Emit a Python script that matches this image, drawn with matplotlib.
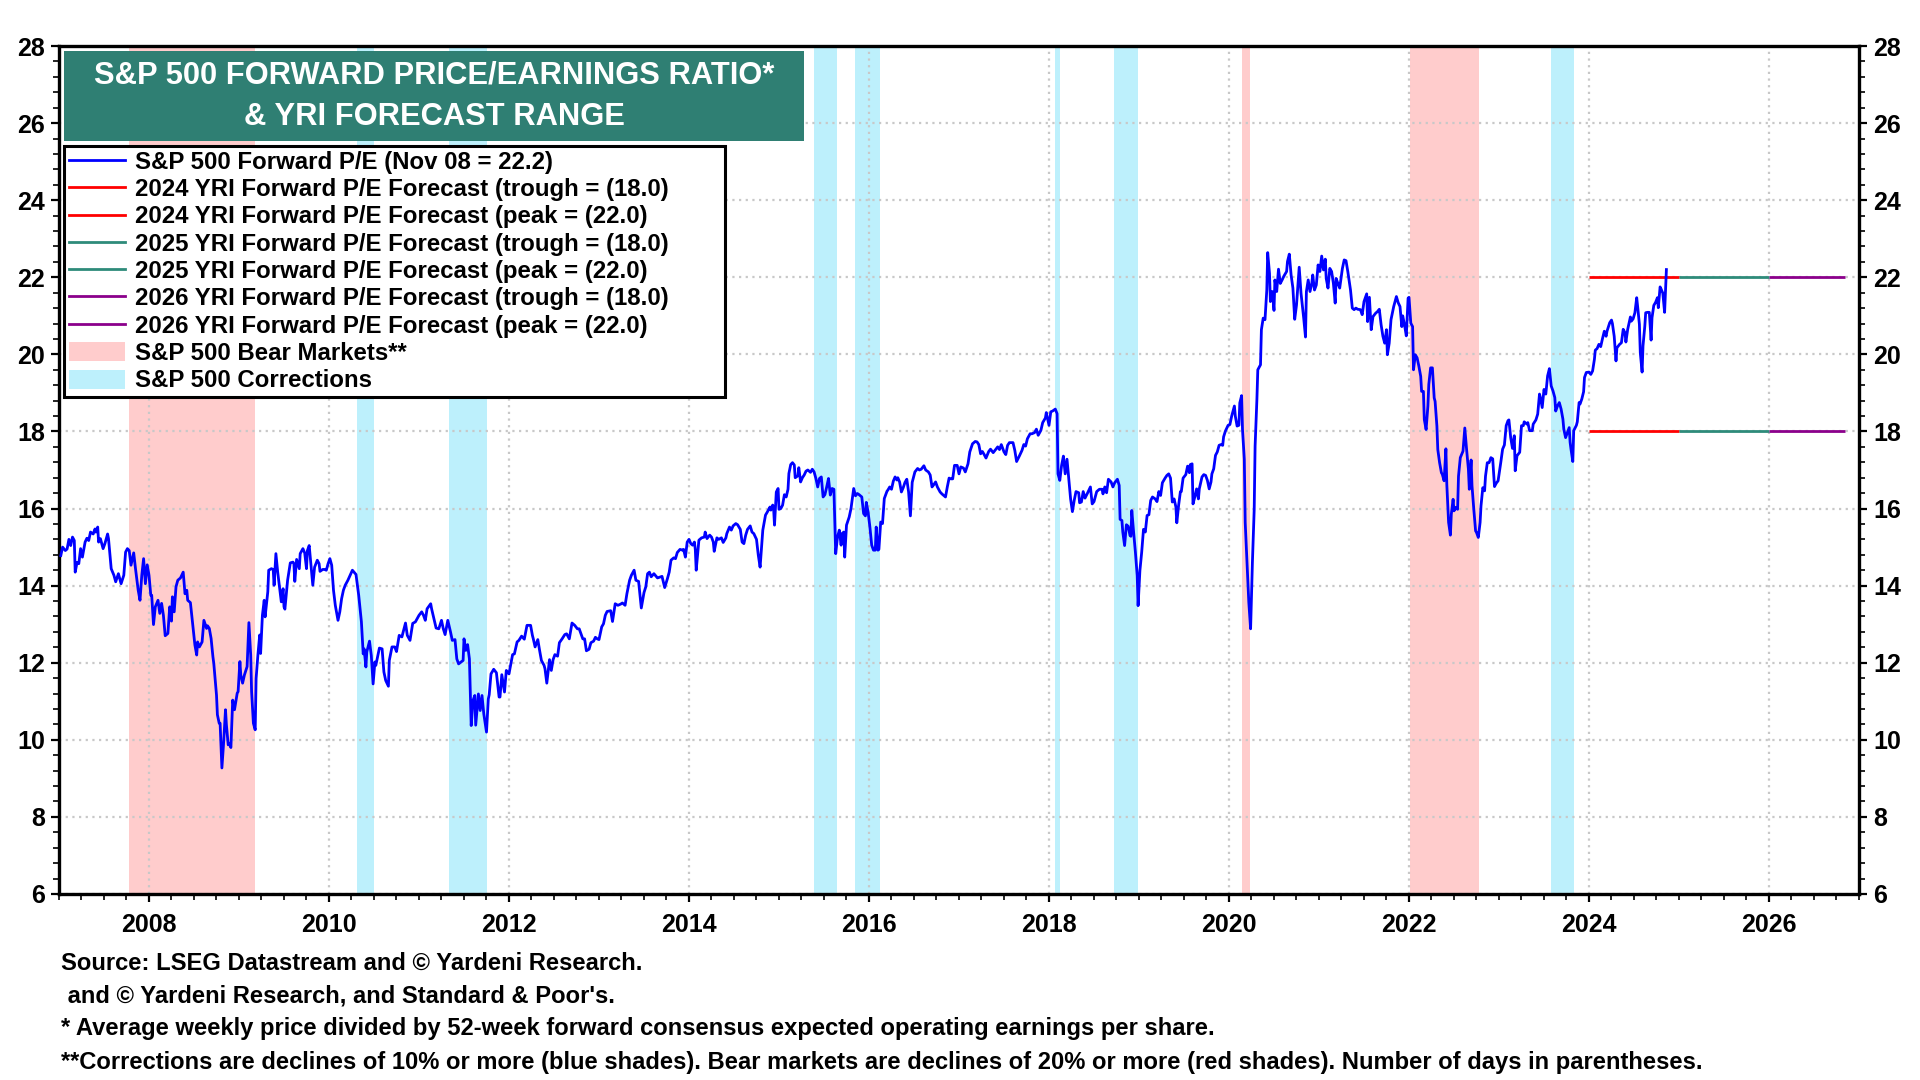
import matplotlib
matplotlib.use("Agg")
import matplotlib.pyplot as plt
from matplotlib.lines import Line2D
from matplotlib.patches import Patch, Rectangle
from matplotlib.ticker import MultipleLocator

# weekly forward P/E, (decimal year, value)
pe_2007_2010 = [
    (2007.02, 14.78), (2007.04, 15.00), (2007.07, 14.91), (2007.09, 14.95), (2007.11, 15.20), (2007.13, 15.04),
    (2007.15, 15.26), (2007.17, 15.17), (2007.18, 14.35), (2007.20, 14.60), (2007.22, 14.57), (2007.24, 14.96),
    (2007.26, 14.74), (2007.29, 15.13), (2007.31, 15.23), (2007.33, 15.17), (2007.35, 15.39), (2007.38, 15.34),
    (2007.40, 15.47), (2007.41, 15.39), (2007.43, 15.52), (2007.44, 15.13), (2007.46, 15.22), (2007.49, 14.96),
    (2007.51, 15.09), (2007.54, 15.34), (2007.55, 15.22), (2007.58, 14.44), (2007.61, 14.27), (2007.63, 14.10),
    (2007.66, 14.31), (2007.69, 14.05), (2007.72, 14.27), (2007.74, 14.87), (2007.76, 14.96), (2007.78, 14.91),
    (2007.80, 14.53), (2007.83, 14.85), (2007.85, 14.44), (2007.88, 13.88), (2007.90, 13.62), (2007.92, 14.27),
    (2007.94, 14.70), (2007.96, 14.05), (2007.98, 14.54), (2008.00, 14.27), (2008.02, 13.75), (2008.03, 13.75),
    (2008.05, 12.99), (2008.07, 13.45), (2008.10, 13.62), (2008.12, 13.28), (2008.14, 13.54), (2008.16, 13.23),
    (2008.18, 12.70), (2008.21, 12.76), (2008.23, 13.45), (2008.25, 13.08), (2008.26, 13.71), (2008.28, 13.32),
    (2008.30, 13.97), (2008.32, 14.14), (2008.35, 14.20), (2008.38, 14.35), (2008.40, 13.79), (2008.42, 13.88),
    (2008.43, 13.62), (2008.46, 13.56), (2008.49, 12.89), (2008.51, 12.46), (2008.53, 12.20), (2008.54, 12.54),
    (2008.56, 12.41), (2008.59, 12.54), (2008.61, 13.10), (2008.64, 12.89), (2008.65, 12.96), (2008.67, 12.89),
    (2008.69, 12.63), (2008.71, 12.16), (2008.72, 11.98), (2008.75, 11.16), (2008.76, 10.65), (2008.78, 10.43),
    (2008.79, 10.43), (2008.81, 9.27), (2008.83, 9.96), (2008.85, 10.78), (2008.86, 10.39), (2008.88, 9.87),
    (2008.89, 9.91), (2008.91, 9.80), (2008.93, 11.03), (2008.95, 10.78), (2008.98, 11.21), (2008.99, 11.25),
    (2009.01, 12.03), (2009.02, 11.68), (2009.04, 11.47), (2009.06, 11.68), (2009.09, 11.90), (2009.11, 13.04),
    (2009.13, 12.20), (2009.14, 11.25), (2009.16, 10.43), (2009.18, 10.26), (2009.19, 11.59), (2009.21, 12.20),
    (2009.23, 12.72), (2009.24, 12.24), (2009.26, 13.23), (2009.28, 13.62), (2009.29, 13.19), (2009.32, 13.84),
    (2009.33, 14.40), (2009.36, 14.44), (2009.38, 14.42), (2009.39, 14.01), (2009.41, 14.83), (2009.43, 14.35),
    (2009.45, 13.97), (2009.47, 13.58), (2009.49, 13.92), (2009.50, 13.45), (2009.51, 13.39), (2009.54, 14.14),
    (2009.57, 14.59), (2009.60, 14.61), (2009.61, 14.57), (2009.62, 14.11), (2009.64, 14.68), (2009.67, 14.44),
    (2009.68, 14.83), (2009.71, 14.96), (2009.73, 14.85), (2009.75, 14.44), (2009.76, 14.91), (2009.78, 15.04),
    (2009.80, 14.53), (2009.82, 14.01), (2009.84, 14.48), (2009.87, 14.66), (2009.89, 14.57), (2009.90, 14.37),
    (2009.93, 14.42), (2009.95, 14.42), (2009.97, 14.40), (2009.99, 14.57), (2010.01, 14.70), (2010.03, 14.53),
    (2010.05, 13.88), (2010.07, 13.49), (2010.10, 13.10), (2010.12, 13.32), (2010.14, 13.66), (2010.16, 13.88),
    (2010.18, 14.01), (2010.21, 14.14),
]

pe_2010_2013 = [
    (2010.26, 14.40), (2010.30, 14.29), (2010.33, 13.75), (2010.36, 13.06), (2010.38, 12.23), (2010.39, 12.36),
    (2010.41, 11.89), (2010.42, 12.28), (2010.45, 12.56), (2010.47, 12.19), (2010.49, 11.45), (2010.51, 12.02),
    (2010.52, 11.93), (2010.56, 12.38), (2010.59, 12.36), (2010.61, 11.76), (2010.63, 11.54), (2010.66, 11.39),
    (2010.67, 12.06), (2010.70, 12.41), (2010.73, 12.41), (2010.75, 12.29), (2010.78, 12.71), (2010.81, 12.67),
    (2010.85, 13.03), (2010.87, 12.71), (2010.90, 12.58), (2010.93, 13.02), (2010.96, 13.06), (2011.00, 13.23),
    (2011.03, 13.32), (2011.05, 13.23), (2011.07, 13.10), (2011.09, 13.40), (2011.13, 13.53), (2011.14, 13.40),
    (2011.19, 12.90), (2011.22, 12.88), (2011.25, 13.10), (2011.27, 12.88), (2011.29, 12.73), (2011.32, 13.10),
    (2011.35, 12.80), (2011.37, 12.58), (2011.40, 12.60), (2011.42, 12.10), (2011.44, 11.97), (2011.49, 12.06),
    (2011.50, 12.62), (2011.52, 12.32), (2011.54, 12.47), (2011.56, 12.10), (2011.58, 10.37), (2011.60, 11.02),
    (2011.62, 11.15), (2011.63, 10.38), (2011.66, 11.19), (2011.68, 10.76), (2011.70, 11.15), (2011.72, 10.67),
    (2011.75, 10.20), (2011.77, 11.06), (2011.78, 11.17), (2011.80, 11.71), (2011.83, 11.83), (2011.86, 11.74),
    (2011.89, 11.11), (2011.90, 11.11), (2011.92, 11.69), (2011.95, 11.24), (2011.97, 11.80), (2012.00, 11.71),
    (2012.01, 11.84), (2012.04, 12.21), (2012.06, 12.23), (2012.09, 12.54), (2012.11, 12.58), (2012.14, 12.69),
    (2012.17, 12.61), (2012.20, 12.97), (2012.24, 12.97), (2012.26, 12.71), (2012.27, 12.62), (2012.29, 12.41),
    (2012.32, 12.60), (2012.34, 12.32), (2012.36, 12.06), (2012.39, 11.93), (2012.40, 11.84), (2012.42, 11.47),
    (2012.45, 12.08), (2012.47, 11.80), (2012.49, 12.08), (2012.51, 12.21), (2012.54, 12.17), (2012.56, 12.52),
    (2012.59, 12.62), (2012.62, 12.73), (2012.64, 12.75), (2012.67, 12.62), (2012.70, 13.03), (2012.73, 12.97),
    (2012.76, 12.88), (2012.78, 12.88), (2012.80, 12.75), (2012.82, 12.62), (2012.84, 12.62), (2012.86, 12.31),
    (2012.89, 12.35), (2012.91, 12.52), (2012.94, 12.56), (2012.96, 12.66), (2012.98, 12.62), (2013.00, 12.60),
    (2013.03, 12.93), (2013.05, 13.01), (2013.07, 13.23), (2013.09, 13.33), (2013.13, 13.35), (2013.15, 13.07),
    (2013.18, 13.53), (2013.21, 13.49), (2013.24, 13.52), (2013.26, 13.55), (2013.29, 13.49), (2013.31, 13.79),
    (2013.34, 14.14), (2013.36, 14.27), (2013.39, 14.40), (2013.41, 14.14), (2013.44, 14.11), (2013.47, 13.42),
    (2013.50, 13.82), (2013.52, 13.97),
]

pe_2013_2016 = [
    (2013.54, 14.31), (2013.56, 14.35), (2013.58, 14.23), (2013.61, 14.31), (2013.65, 14.20), (2013.70, 14.24),
    (2013.73, 13.95), (2013.76, 14.18), (2013.78, 14.35), (2013.80, 14.66), (2013.83, 14.72), (2013.85, 14.70),
    (2013.87, 14.86), (2013.90, 14.94), (2013.93, 14.92), (2013.94, 14.94), (2013.96, 14.74), (2013.98, 15.13),
    (2014.00, 15.20), (2014.02, 15.09), (2014.04, 15.05), (2014.06, 15.13), (2014.07, 14.94), (2014.08, 14.40),
    (2014.11, 15.18), (2014.14, 15.24), (2014.17, 15.26), (2014.18, 15.39), (2014.20, 15.22), (2014.23, 15.31),
    (2014.25, 15.26), (2014.27, 15.13), (2014.28, 14.89), (2014.31, 15.24), (2014.33, 15.20), (2014.36, 15.24),
    (2014.38, 15.12), (2014.41, 15.24), (2014.42, 15.35), (2014.45, 15.52), (2014.47, 15.44), (2014.49, 15.55),
    (2014.52, 15.61), (2014.54, 15.58), (2014.57, 15.46), (2014.59, 15.13), (2014.61, 15.09), (2014.63, 15.31),
    (2014.65, 15.46), (2014.68, 15.55), (2014.70, 15.39), (2014.72, 15.35), (2014.75, 15.20), (2014.77, 14.79),
    (2014.79, 14.48), (2014.80, 14.79), (2014.82, 15.44), (2014.85, 15.83), (2014.87, 15.91), (2014.90, 16.04),
    (2014.91, 15.96), (2014.93, 16.09), (2014.94, 16.00), (2014.95, 15.57), (2014.97, 16.43), (2014.99, 16.52),
    (2015.00, 15.98), (2015.02, 16.00), (2015.04, 16.09), (2015.06, 16.36), (2015.08, 16.30), (2015.10, 16.50),
    (2015.11, 16.91), (2015.13, 17.14), (2015.15, 17.19), (2015.17, 17.13), (2015.18, 16.80), (2015.21, 16.85),
    (2015.22, 17.06), (2015.24, 16.69), (2015.26, 16.80), (2015.28, 16.87), (2015.30, 16.97), (2015.32, 17.00),
    (2015.35, 16.94), (2015.37, 17.02), (2015.39, 16.95), (2015.41, 16.78), (2015.43, 16.56), (2015.45, 16.78),
    (2015.47, 16.82), (2015.49, 16.30), (2015.51, 16.36), (2015.53, 16.56), (2015.55, 16.78), (2015.57, 16.35),
    (2015.59, 16.52), (2015.61, 16.50), (2015.63, 14.83), (2015.65, 15.26), (2015.67, 15.44), (2015.69, 15.05),
    (2015.70, 15.35), (2015.72, 15.39), (2015.73, 14.74), (2015.75, 15.57), (2015.78, 15.78), (2015.80, 16.00),
    (2015.83, 16.52), (2015.85, 16.33), (2015.87, 16.39), (2015.89, 16.36), (2015.92, 16.30), (2015.94, 15.87),
    (2015.96, 15.81), (2015.97, 16.16), (2015.99, 15.91), (2016.01, 15.52), (2016.03, 15.05), (2016.05, 14.92),
    (2016.07, 14.92), (2016.08, 15.52), (2016.10, 14.92), (2016.11, 14.94), (2016.13, 15.65), (2016.15, 15.61),
    (2016.17, 16.26), (2016.20, 16.45), (2016.21, 16.48), (2016.23, 16.56), (2016.25, 16.50), (2016.27, 16.71),
    (2016.29, 16.82), (2016.31, 16.74), (2016.32, 16.80), (2016.34, 16.69), (2016.36, 16.43), (2016.38, 16.54),
    (2016.40, 16.68), (2016.42, 16.76), (2016.44, 16.43), (2016.46, 15.81), (2016.48, 16.68), (2016.51, 16.95),
    (2016.54, 17.04), (2016.56, 17.00), (2016.58, 17.02), (2016.61, 17.11), (2016.63, 17.00), (2016.66, 16.95),
    (2016.68, 16.87), (2016.70, 16.56), (2016.72, 16.62), (2016.74, 16.69), (2016.76, 16.56), (2016.79, 16.43),
]

pe_2016_2019 = [
    (2016.81, 16.38), (2016.83, 16.34), (2016.85, 16.30), (2016.87, 16.56), (2016.89, 16.79), (2016.91, 16.77),
    (2016.93, 16.77), (2016.95, 17.12), (2016.98, 17.12), (2017.00, 16.90), (2017.02, 17.08), (2017.05, 17.05),
    (2017.07, 16.95), (2017.10, 17.16), (2017.12, 17.47), (2017.15, 17.68), (2017.18, 17.74), (2017.20, 17.73),
    (2017.22, 17.66), (2017.24, 17.42), (2017.26, 17.48), (2017.28, 17.40), (2017.30, 17.31), (2017.33, 17.48),
    (2017.35, 17.54), (2017.38, 17.45), (2017.40, 17.51), (2017.43, 17.60), (2017.45, 17.53), (2017.47, 17.66),
    (2017.50, 17.47), (2017.52, 17.40), (2017.54, 17.64), (2017.56, 17.71), (2017.60, 17.71), (2017.62, 17.51),
    (2017.64, 17.22), (2017.67, 17.36), (2017.70, 17.51), (2017.72, 17.66), (2017.74, 17.62), (2017.76, 17.81),
    (2017.79, 17.94), (2017.81, 17.94), (2017.84, 17.97), (2017.86, 18.06), (2017.88, 17.90), (2017.91, 18.03),
    (2017.93, 18.23), (2017.96, 18.35), (2017.97, 18.49), (2018.00, 18.16), (2018.02, 18.51), (2018.04, 18.53),
    (2018.07, 18.58), (2018.09, 18.46), (2018.10, 16.90), (2018.12, 16.73), (2018.14, 17.12), (2018.16, 17.36),
    (2018.18, 16.90), (2018.20, 17.28), (2018.22, 16.77), (2018.24, 16.25), (2018.26, 15.92), (2018.28, 16.21),
    (2018.30, 16.44), (2018.33, 16.41), (2018.34, 16.15), (2018.36, 16.17), (2018.38, 16.44), (2018.40, 16.27),
    (2018.43, 16.41), (2018.46, 16.56), (2018.48, 16.12), (2018.50, 16.18), (2018.53, 16.44), (2018.56, 16.50),
    (2018.59, 16.50), (2018.60, 16.38), (2018.62, 16.56), (2018.64, 16.41), (2018.66, 16.76), (2018.69, 16.69),
    (2018.71, 16.56), (2018.73, 16.67), (2018.76, 16.76), (2018.78, 16.60), (2018.79, 15.72), (2018.81, 15.69),
    (2018.82, 15.39), (2018.84, 15.04), (2018.86, 15.58), (2018.88, 15.54), (2018.90, 15.30), (2018.91, 15.28),
    (2018.92, 15.95), (2018.94, 15.39), (2018.96, 14.87), (2018.98, 14.26), (2018.99, 13.48), (2019.01, 14.39),
    (2019.03, 14.87), (2019.05, 15.46), (2019.07, 15.39), (2019.09, 15.82), (2019.11, 15.84), (2019.13, 16.21),
    (2019.15, 16.30), (2019.18, 16.25), (2019.20, 16.18), (2019.22, 16.44), (2019.24, 16.34), (2019.26, 16.67),
    (2019.29, 16.79), (2019.31, 16.86), (2019.33, 16.90), (2019.35, 16.79), (2019.37, 16.17), (2019.39, 16.25),
    (2019.41, 16.04), (2019.42, 15.63), (2019.44, 16.08), (2019.46, 16.44), (2019.47, 16.44), (2019.49, 16.79),
    (2019.52, 16.88), (2019.54, 17.10), (2019.56, 16.93), (2019.57, 17.14), (2019.59, 17.16), (2019.60, 16.12),
    (2019.62, 16.30), (2019.64, 16.51), (2019.66, 16.25), (2019.67, 16.51), (2019.70, 16.82), (2019.72, 16.88),
    (2019.74, 16.86), (2019.76, 16.73), (2019.78, 16.51), (2019.80, 16.69), (2019.81, 16.90), (2019.83, 17.03),
    (2019.85, 17.38), (2019.87, 17.47), (2019.89, 17.64), (2019.91, 17.66), (2019.93, 17.64), (2019.94, 17.86),
    (2019.96, 18.01), (2019.99, 18.16),
]

pe_2020_2022 = [
    (2020.01, 18.18), (2020.03, 18.40), (2020.06, 18.66), (2020.07, 18.40), (2020.09, 18.14), (2020.11, 18.16),
    (2020.12, 18.74), (2020.14, 18.93), (2020.15, 18.05), (2020.17, 17.28), (2020.18, 15.64), (2020.20, 14.60),
    (2020.22, 13.57), (2020.24, 12.88), (2020.26, 14.60), (2020.28, 15.98), (2020.29, 17.62), (2020.31, 18.83),
    (2020.32, 19.60), (2020.35, 19.73), (2020.36, 20.64), (2020.38, 20.94), (2020.40, 20.90), (2020.42, 21.67),
    (2020.43, 22.64), (2020.45, 22.10), (2020.46, 21.37), (2020.48, 21.63), (2020.49, 21.41), (2020.50, 21.14),
    (2020.51, 21.93), (2020.53, 21.63), (2020.55, 22.21), (2020.57, 21.84), (2020.59, 21.93), (2020.61, 22.03),
    (2020.64, 22.15), (2020.65, 22.41), (2020.67, 22.60), (2020.69, 22.06), (2020.71, 21.72), (2020.73, 20.91),
    (2020.75, 21.28), (2020.78, 22.26), (2020.80, 21.59), (2020.83, 20.94), (2020.85, 20.45), (2020.86, 21.63),
    (2020.88, 21.93), (2020.90, 21.63), (2020.92, 21.84), (2020.93, 22.06), (2020.95, 21.67), (2020.97, 21.80),
    (2020.99, 22.32), (2021.01, 22.15), (2021.03, 22.55), (2021.05, 22.19), (2021.07, 22.47), (2021.08, 21.97),
    (2021.10, 21.72), (2021.12, 22.23), (2021.14, 22.15), (2021.16, 21.84), (2021.18, 21.33), (2021.19, 21.97),
    (2021.21, 21.84), (2021.23, 21.72), (2021.26, 22.23), (2021.28, 22.45), (2021.30, 22.43), (2021.32, 22.15),
    (2021.35, 21.67), (2021.37, 21.20), (2021.39, 21.16), (2021.41, 21.20), (2021.43, 21.17), (2021.46, 21.16),
    (2021.48, 21.03), (2021.50, 21.37), (2021.53, 21.57), (2021.54, 20.85), (2021.56, 21.48), (2021.58, 20.64),
    (2021.60, 20.98), (2021.63, 21.07), (2021.65, 21.11), (2021.67, 21.17), (2021.69, 20.77), (2021.71, 20.47),
    (2021.73, 20.29), (2021.75, 20.64), (2021.76, 19.99), (2021.78, 20.29), (2021.80, 20.90), (2021.83, 21.24),
    (2021.86, 21.50), (2021.88, 21.34), (2021.90, 21.24), (2021.92, 20.72), (2021.93, 21.00), (2021.95, 20.77),
    (2021.97, 20.48), (2021.99, 21.46), (2022.00, 21.48), (2022.02, 20.81), (2022.04, 20.72), (2022.05, 19.60),
    (2022.07, 19.99), (2022.09, 19.91), (2022.11, 19.69), (2022.13, 19.43), (2022.14, 19.04), (2022.16, 19.04),
    (2022.17, 18.31), (2022.19, 18.05), (2022.21, 18.66), (2022.22, 19.22), (2022.24, 19.65), (2022.26, 19.65),
    (2022.28, 18.87), (2022.29, 18.78), (2022.31, 18.14), (2022.32, 17.53), (2022.34, 17.19), (2022.36, 16.93),
    (2022.37, 16.89), (2022.39, 16.72), (2022.41, 17.55), (2022.42, 16.63), (2022.44, 15.64), (2022.46, 15.31),
    (2022.47, 15.85), (2022.49, 16.24), (2022.50, 15.94), (2022.52, 16.03), (2022.54, 15.98), (2022.55, 16.84),
    (2022.57, 17.32), (2022.60, 17.49), (2022.62, 18.09), (2022.64, 17.53), (2022.66, 17.02), (2022.67, 16.50),
    (2022.69, 17.26), (2022.70, 16.59), (2022.72, 15.98), (2022.74, 15.42), (2022.75, 15.38), (2022.77, 15.25),
    (2022.79, 15.64), (2022.80, 16.07), (2022.82, 16.54), (2022.84, 16.46), (2022.85, 16.84), (2022.87, 17.19),
    (2022.89, 17.19), (2022.91, 17.32), (2022.93, 17.29), (2022.95, 16.57), (2022.97, 16.66), (2022.99, 16.72),
]

pe_2023_2024 = [
    (2023.02, 17.20), (2023.04, 17.54), (2023.06, 17.65), (2023.08, 18.15), (2023.10, 18.28), (2023.11, 18.30),
    (2023.13, 17.84), (2023.15, 17.56), (2023.17, 17.89), (2023.18, 16.98), (2023.20, 17.37), (2023.23, 17.46),
    (2023.25, 18.15), (2023.27, 18.15), (2023.28, 18.25), (2023.31, 18.19), (2023.32, 18.23), (2023.34, 18.02),
    (2023.37, 18.02), (2023.38, 18.19), (2023.41, 18.30), (2023.43, 18.45), (2023.45, 18.97), (2023.46, 18.88),
    (2023.48, 18.62), (2023.50, 19.09), (2023.52, 18.97), (2023.54, 19.44), (2023.56, 19.63), (2023.58, 19.18),
    (2023.60, 19.05), (2023.62, 18.88), (2023.63, 18.53), (2023.65, 18.66), (2023.67, 18.75), (2023.69, 18.58),
    (2023.71, 18.32), (2023.72, 18.06), (2023.74, 17.84), (2023.76, 17.97), (2023.78, 18.10), (2023.79, 17.72),
    (2023.80, 17.54), (2023.82, 17.22), (2023.83, 18.02), (2023.86, 18.16), (2023.87, 18.25), (2023.89, 18.75),
    (2023.90, 18.71), (2023.92, 18.84), (2023.94, 19.03), (2023.95, 19.40), (2023.97, 19.53), (2024.00, 19.54),
    (2024.02, 19.48), (2024.04, 19.57), (2024.06, 19.87), (2024.07, 20.11), (2024.09, 20.15), (2024.11, 20.26),
    (2024.13, 20.20), (2024.15, 20.41), (2024.17, 20.60), (2024.19, 20.47), (2024.20, 20.60), (2024.23, 20.82),
    (2024.25, 20.89), (2024.26, 20.80), (2024.28, 20.47), (2024.30, 19.83), (2024.31, 20.17), (2024.34, 20.26),
    (2024.36, 20.30), (2024.38, 20.65), (2024.40, 20.56), (2024.41, 20.32), (2024.43, 20.65), (2024.46, 20.97),
    (2024.47, 20.86), (2024.49, 20.92), (2024.51, 21.08), (2024.53, 21.47), (2024.54, 21.25), (2024.56, 20.78),
    (2024.57, 20.04), (2024.59, 19.54), (2024.60, 20.22), (2024.62, 20.73), (2024.63, 21.08), (2024.65, 21.09),
    (2024.67, 21.09), (2024.69, 20.37), (2024.70, 20.95), (2024.72, 21.27), (2024.74, 21.35), (2024.76, 21.47),
    (2024.77, 21.21), (2024.79, 21.75), (2024.80, 21.70), (2024.82, 21.59), (2024.84, 21.09), (2024.86, 22.20),
]

# shaded periods (decimal years)
bear_markets = [(2007.78, 2009.18), (2020.14, 2020.23), (2022.01, 2022.78)]
corrections = [(2010.31, 2010.50), (2011.33, 2011.76), (2015.39, 2015.65), (2015.84, 2016.12),
               (2018.07, 2018.12), (2018.72, 2018.99), (2023.58, 2023.83)]

# YRI forecast range
forecast_years = ["2024", "2025", "2026"]
forecast_spans = [(2024.0, 2025.0), (2025.0, 2026.0), (2026.0, 2026.84)]
forecast_trough = [18.0, 18.0, 18.0]
forecast_peak = [22.0, 22.0, 22.0]
forecast_colors = ["#FF0000", "#2E8B7A", "#8B008B"]

title_lines = ["S&P 500 FORWARD PRICE/EARNINGS RATIO*", "& YRI FORECAST RANGE"]
footnotes = [
    "Source: LSEG Datastream and \u00a9 Yardeni Research.",
    " and \u00a9 Yardeni Research, and Standard & Poor's.",
    "* Average weekly price divided by 52-week forward consensus expected operating earnings per share.",
    "**Corrections are declines of 10% or more (blue shades). Bear markets are declines of 20% or more (red shades). Number of days in parentheses.",
]

BEAR_COLOR = "#FFCCCC"
CORR_COLOR = "#BDF0FC"
TEAL = "#2F7F73"
W, H = 1920, 1080


def main():
    plt.rcParams["font.family"] = ["Liberation Sans", "DejaVu Sans"]
    plt.rcParams["font.weight"] = "bold"

    fig = plt.figure(figsize=(19.2, 10.8), dpi=100)
    ax = fig.add_axes([59 / W, 1 - 894 / H, 1800 / W, 848 / H])

    for start, end in bear_markets:
        ax.axvspan(start, end, color=BEAR_COLOR, lw=0, zorder=1)
    for start, end in corrections:
        ax.axvspan(start, end, color=CORR_COLOR, lw=0, zorder=1)

    for (start, end), lo, hi, color in zip(forecast_spans, forecast_trough, forecast_peak, forecast_colors):
        ax.plot([start, end], [lo, lo], color=color, lw=2, zorder=3, solid_capstyle="butt")
        ax.plot([start, end], [hi, hi], color=color, lw=2, zorder=3, solid_capstyle="butt")

    pe = pe_2007_2010 + pe_2010_2013 + pe_2013_2016 + pe_2016_2019 + pe_2020_2022 + pe_2023_2024
    ax.plot([p[0] for p in pe], [p[1] for p in pe], color="#0000FF", lw=2.0, zorder=4)

    ax.set_xlim(2007, 2027)
    ax.set_ylim(6, 28)
    ax.set_xticks(range(2008, 2027, 2))
    ax.xaxis.set_minor_locator(MultipleLocator(0.25))
    ax.set_yticks(range(6, 29, 2))
    ax.yaxis.set_minor_locator(MultipleLocator(0.4))
    ax.tick_params(which="both", direction="out", color="black")
    ax.tick_params(which="major", length=6, width=1.6, labelsize=18)
    ax.tick_params(which="minor", length=4, width=1.2)
    ax.tick_params(axis="y", which="both", left=True, right=True, labelleft=True, labelright=True, pad=4)
    ax.tick_params(axis="x", which="major", pad=8)
    ax.set_axisbelow("line")
    ax.grid(True, which="major", color="#C8C8C8", linestyle=(0, (1, 2)), linewidth=1.6)
    for spine in ax.spines.values():
        spine.set_linewidth(2.4)
        spine.set_color("black")

    labels = [
        "S&P 500 Forward P/E (Nov 08 = 22.2)",
        "2024 YRI Forward P/E Forecast (trough = (18.0)",
        "2024 YRI Forward P/E Forecast (peak = (22.0)",
        "2025 YRI Forward P/E Forecast (trough = (18.0)",
        "2025 YRI Forward P/E Forecast (peak = (22.0)",
        "2026 YRI Forward P/E Forecast (trough = (18.0)",
        "2026 YRI Forward P/E Forecast (peak = (22.0)",
        "S&P 500 Bear Markets**",
        "S&P 500 Corrections",
    ]
    handles = [Line2D([], [], color="#0000FF", lw=2)]
    for color in forecast_colors:
        handles.append(Line2D([], [], color=color, lw=2))
        handles.append(Line2D([], [], color=color, lw=2))
    handles.append(Patch(facecolor=BEAR_COLOR, edgecolor="none"))
    handles.append(Patch(facecolor=CORR_COLOR, edgecolor="none"))

    leg = ax.legend(handles, labels, loc="upper left", mode="expand",
                    bbox_to_anchor=(64 / W, 1 - 398 / H, 661 / W, 252 / H),
                    bbox_transform=fig.transFigure, fontsize=17.3, frameon=True, fancybox=False,
                    edgecolor="black", framealpha=1, borderpad=0.2, labelspacing=0.18,
                    handlelength=2.35, handletextpad=0.42, borderaxespad=0, handleheight=0.85)
    leg.get_frame().set_linewidth(2.2)
    leg.set_zorder(10)

    # title box
    fig.add_artist(Rectangle((64 / W, 1 - 141 / H), 740 / W, 90 / H, transform=fig.transFigure,
                             facecolor=TEAL, edgecolor="none", zorder=5))
    fig.text(434 / W, 1 - 76 / H, title_lines[0], ha="center", va="center", color="white", fontsize=22.2, zorder=6)
    fig.text(434 / W, 1 - 117 / H, title_lines[1], ha="center", va="center", color="white", fontsize=22.2, zorder=6)

    for i, line in enumerate(footnotes):
        fig.text(61 / W, 1 - (963 + 33 * i) / H, line, ha="left", va="center", fontsize=17.15)

    fig.savefig("out.png", dpi=100)


if __name__ == "__main__":
    main()
